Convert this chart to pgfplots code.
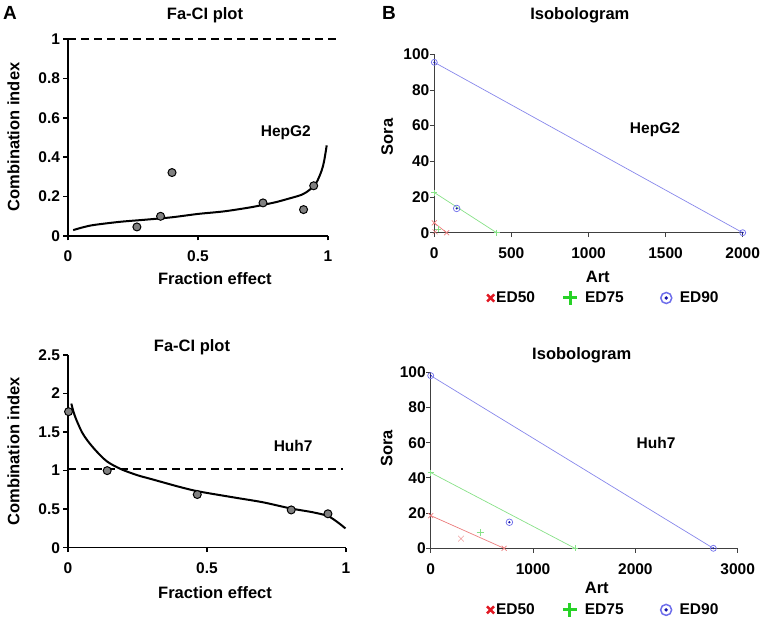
\documentclass[border=0pt]{standalone}
\usepackage{pgfplots}
\pgfplotsset{compat=1.18}
\usepackage{fontspec}
\setmainfont{Liberation Sans}
\definecolor{redline}{RGB}{235,125,125}
\definecolor{redleg}{RGB}{225,25,35}
\definecolor{greenline}{RGB}{135,225,135}
\definecolor{greenleg}{RGB}{40,210,40}
\definecolor{blueline}{RGB}{135,135,235}
\definecolor{bluering}{RGB}{110,110,235}
\definecolor{bluedot}{RGB}{20,20,170}
\definecolor{ptgray}{RGB}{128,128,128}
\newcommand\ff{\fontsize{15.5}{18}\selectfont\bfseries}
\newcommand\fl{\fontsize{16.5}{19}\selectfont\bfseries}
\pgfdeclareplotmark{codot}{%
  \pgfpathcircle{\pgfpointorigin}{\pgfplotmarksize}\pgfusepathqstroke
  \pgfpathcircle{\pgfpointorigin}{0.35\pgfplotmarksize}\pgfusepathqfill}
\pgfplotsset{
  base/.style={scale only axis, anchor=south west, axis lines=left,
    axis line style={-}, tick align=outside, major tick length=4.5pt,
    clip=false, font=\ff, ticklabel style={font=\ff},
    /pgf/number format/assume math mode=true,
    /pgf/number format/1000 sep={}, scaled ticks=false,
    label style={font=\fl},
    xticklabel shift=7pt},
  faci/.style={base, axis line style={line width=1.5pt, black},
    every tick/.style={black, line width=1.5pt}},
  iso/.style={base, axis line style={line width=0.9pt, black!75},
    every tick/.style={black!75, line width=0.9pt},
    yticklabel shift=-3pt,
    legend columns=3,
  },
  curve/.style={black, line width=2pt, smooth, no marks},
  pts/.style={only marks, mark=*, mark size=4pt, mark options={fill=ptgray, draw=black, line width=1pt}},
  dash1/.style={black, line width=2pt, dash pattern=on 8pt off 5pt},
  leg/.style={legend style={draw=none, fill=none, font=\ff, anchor=west,
    /tikz/column 1/.style={column sep=0pt},
    /tikz/column 2/.style={column sep=26pt},
    /tikz/column 3/.style={column sep=6pt},
    /tikz/column 4/.style={column sep=35pt},
    /tikz/column 5/.style={column sep=6pt}}},
}
\begin{document}
\begin{tikzpicture}
\path[use as bounding box] (0,0) rectangle (765pt,623pt);
\node[font=\fontsize{19}{22}\selectfont\bfseries] at (10pt,610pt) {A};
\node[font=\fontsize{19}{22}\selectfont\bfseries] at (389pt,610pt) {B};

% ---------- A top: HepG2 Fa-CI
\begin{axis}[faci, at={(68pt,387pt)}, width=260pt, height=197pt,
  xmin=0, xmax=1, ymin=0, ymax=1,
  xtick={0,0.5,1}, ytick={0,0.2,0.4,0.6,0.8,1},
  xlabel={Fraction effect}, xlabel style={at={(axis description cs:0.565,-0.218)}, anchor=center},
  ylabel={Combination index}, ylabel style={at={(axis description cs:-0.21,0.503)}, anchor=center}]
\addplot[dash1] coordinates {(0,1) (1.035,1)};
\addplot[curve] coordinates {(0.02,0.03)(0.06,0.045)(0.1,0.056)(0.2,0.072)(0.3,0.083)(0.4,0.095)(0.5,0.112)(0.6,0.125)(0.7,0.145)(0.75,0.158)(0.8,0.172)(0.85,0.19)(0.9,0.21)(0.93,0.235)(0.955,0.27)(0.975,0.33)(0.985,0.38)(0.995,0.46)};
\addplot[pts] coordinates {(0.265,0.046)(0.356,0.10)(0.40,0.322)(0.75,0.168)(0.906,0.134)(0.945,0.255)};
\node[font=\ff] at (axis cs:0.838,0.523) {HepG2};
\node[font=\fl, anchor=center] at (axis description cs:0.527,1.122) {Fa-CI plot};
\end{axis}

% ---------- A bottom: Huh7 Fa-CI
\begin{axis}[faci, at={(68pt,75.3pt)}, width=278pt, height=192.7pt,
  xmin=0, xmax=1, ymin=0, ymax=2.5,
  xtick={0,0.5,1}, ytick={0,0.5,1,1.5,2,2.5},
  xlabel={Fraction effect}, xlabel style={at={(axis description cs:0.529,-0.235)}, anchor=center},
  ylabel={Combination index}, ylabel style={at={(axis description cs:-0.196,0.5)}, anchor=center}]
\addplot[dash1] coordinates {(0,1.02) (0.99,1.02)};
\addplot[curve] coordinates {(0.012,1.87)(0.02,1.76)(0.03,1.66)(0.05,1.5)(0.07,1.39)(0.1,1.26)(0.14,1.12)(0.19,1.02)(0.25,0.94)(0.3,0.89)(0.4,0.79)(0.47,0.73)(0.6,0.65)(0.7,0.59)(0.8,0.51)(0.88,0.46)(0.935,0.41)(0.97,0.33)(0.998,0.25)};
\addplot[pts] coordinates {(0.002,1.765)(0.141,1.0)(0.465,0.69)(0.803,0.49)(0.935,0.44)};
\node[font=\ff] at (axis cs:0.81,1.32) {Huh7};
\node[font=\fl, anchor=center] at (axis description cs:0.446,1.038) {Fa-CI plot};
\end{axis}

% ---------- B top: HepG2 isobologram
\begin{axis}[iso, leg, at={(434.3pt,390.3pt)}, width=308.4pt, height=178.4pt,
  xmin=0, xmax=2000, ymin=0, ymax=100,
  xtick={0,500,1000,1500,2000}, ytick={0,20,40,60,80,100},
  xlabel={Art}, xlabel style={at={(axis description cs:0.53,-0.248)}, anchor=center},
  ylabel={Sora}, ylabel style={at={(axis description cs:-0.153,0.536)}, anchor=center},
  legend style={at={(axis description cs:0.161,-0.366)}}]
\addlegendimage{only marks, mark=x, redleg, mark options={line width=2.5pt, mark size=5pt}}
\addlegendentry{ED50}
\addlegendimage{only marks, mark=+, greenleg, mark options={line width=3pt, mark size=7pt}}
\addlegendentry{ED75}
\addlegendimage{only marks, mark=codot, mark options={line width=1.5pt, mark size=5.5pt, draw=bluering, fill=bluedot}}
\addlegendentry{ED90}
\addplot[blueline, line width=0.7pt, mark=codot, mark size=3pt, mark options={draw=bluering, fill=bluedot}] coordinates {(0,95.5)(2000,0)};
\addplot[only marks, mark=codot, mark size=3.3pt, mark options={draw=bluering, fill=bluedot, line width=0.7pt}] coordinates {(145,13.6)};
\addplot[greenline, line width=0.7pt, mark=+, mark size=3pt] coordinates {(0,22.5)(404,0)};
\addplot[only marks, greenline, mark=+, mark size=3pt] coordinates {(26,2)};
\addplot[redline, line width=0.7pt, mark=x, mark size=3.5pt] coordinates {(0,5.5)(80,0)};
\addplot[only marks, redline, mark=x, mark size=3.5pt] coordinates {(5,0.5)};
\node[font=\ff] at (axis cs:1431,57.6) {HepG2};
\node[font=\fl, anchor=center] at (axis description cs:0.472,1.22) {Isobologram};
\end{axis}

% ---------- B bottom: Huh7 isobologram
\begin{axis}[iso, leg, at={(430.7pt,74.7pt)}, width=307pt, height=176pt,
  xmin=0, xmax=3000, ymin=0, ymax=100,
  xtick={0,1000,2000,3000}, ytick={0,20,40,60,80,100},
  xlabel={Art}, xlabel style={at={(axis description cs:0.541,-0.227)}, anchor=center},
  ylabel={Sora}, ylabel style={at={(axis description cs:-0.143,0.568)}, anchor=center},
  legend style={at={(axis description cs:0.173,-0.35)}}]
\addlegendimage{only marks, mark=x, redleg, mark options={line width=2.5pt, mark size=5pt}}
\addlegendentry{ED50}
\addlegendimage{only marks, mark=+, greenleg, mark options={line width=3pt, mark size=7pt}}
\addlegendentry{ED75}
\addlegendimage{only marks, mark=codot, mark options={line width=1.5pt, mark size=5.5pt, draw=bluering, fill=bluedot}}
\addlegendentry{ED90}
\addplot[blueline, line width=0.7pt, mark=codot, mark size=3pt, mark options={draw=bluering, fill=bluedot}] coordinates {(0,98.1)(2762,0)};
\addplot[only marks, mark=codot, mark size=3.3pt, mark options={draw=bluering, fill=bluedot, line width=0.7pt}] coordinates {(769,14.8)};
\addplot[greenline, line width=0.7pt, mark=+, mark size=3pt] coordinates {(0,43)(1410,0)};
\addplot[only marks, greenline, mark=+, mark size=3.5pt] coordinates {(482,9.1)};
\addplot[redline, line width=0.7pt, mark=x, mark size=3.5pt] coordinates {(0,18.6)(717,0)};
\addplot[only marks, redline, mark=x, mark size=4pt] coordinates {(296,5.5)};
\node[font=\ff] at (axis cs:2202,59.7) {Huh7};
\node[font=\fl, anchor=center] at (axis description cs:0.492,1.098) {Isobologram};
\end{axis}
\end{tikzpicture}
\end{document}
